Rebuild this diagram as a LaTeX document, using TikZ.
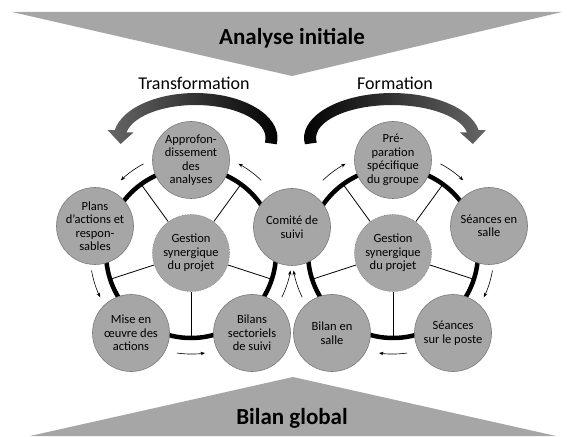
\documentclass[tikz,border=0pt]{standalone}
\usepackage{fontspec}
\setmainfont{Carlito}
\usetikzlibrary{arrows.meta,backgrounds}

\definecolor{fond}{HTML}{A6A6A6}
\definecolor{bord}{HTML}{7A7A7A}
\definecolor{arcclair}{HTML}{A3A3A3}
\definecolor{arcmoyen}{HTML}{666666}

\tikzset{
	etape/.style={circle, fill=fond, draw=bord, line width=0.6pt, minimum size=77pt, inner sep=0pt, align=center, font=\fontsize{12.5}{13.5}\selectfont},
	gestion/.style={etape, densely dotted},
	anneau/.style={line width=4.5pt},
	rayon/.style={line width=0.8pt},
	sens/.style={line width=0.6pt, -{Stealth[length=4.5pt,width=3.5pt]}},
	titre/.style={font=\fontsize{23}{27}\selectfont\bfseries},
	phase/.style={font=\fontsize{18}{21}\selectfont}
}

\begin{document}
\begin{tikzpicture}[x=1pt,y=1pt]
	\useasboundingbox (0,0) rectangle (572,436);

	% bandeaux haut et bas
	\fill[fond] (12,424) -- (562,424) -- (292,360) -- cycle;
	\node[titre] (analyse) at (292,398) {Analyse initiale};
	\fill[fond] (30,0) -- (293,59) -- (556,0) -- cycle;
	\node[titre] (bilan) at (292,18) {Bilan global};

	% les deux phases
	\node[phase] (transfo) at (194,353) {Transformation};
	\node[phase] (forma) at (395,353) {Formation};
	\shade[left color=arcmoyen, middle color=arcclair, right color=black]
	(276.7,291.7) arc[start angle=-8, end angle=170, x radius=82pt, y radius=45pt]
	-- ++(-7,0) -- (120.6,292) -- (133.6,303.7) -- (126.6,303.7)
	arc[start angle=170, end angle=-8, x radius=70pt, y radius=33pt] -- cycle;
	\shade[left color=black, middle color=arcclair, right color=arcmoyen]
	(304.9,291.7) arc[start angle=188, end angle=10, x radius=88pt, y radius=45pt]
	-- ++(7,0) -- (472.8,292) -- (459.9,303.7) -- (466.9,303.7)
	arc[start angle=10, end angle=188, x radius=76pt, y radius=33pt] -- cycle;

	% cycle transformation
	\node[gestion] (gestL) at (191,183) {Gestion\\synergique\\du projet};
	\node[etape] (approf) at (191,276) {Approfon-\\dissement\\des\\analyses};
	\node[etape] (plans) at (95,210) {Plans\\d’actions et\\respon-\\sables};
	\node[etape] (comite) at (292,209) {Comité de\\suivi};
	\node[etape] (mise) at (131,103) {Mise en\\œuvre des\\actions};
	\node[etape] (bilans) at (252,103) {Bilans\\sectoriels\\de suivi};

	% cycle formation
	\node[gestion] (gestR) at (393,183) {Gestion\\synergique\\du projet};
	\node[etape] (prep) at (393,276) {Pré-\\paration\\spécifique\\du groupe};
	\node[etape] (salle) at (489,210) {Séances en\\salle};
	\node[etape] (poste) at (453,103) {Séances\\sur le poste};
	\node[etape] (bilansalle) at (332,103) {Bilan en\\salle};

	\begin{scope}[on background layer]
		\draw[anneau] (gestL.center) circle (85pt);
		\draw[anneau] (gestR.center) circle (85pt);
		\foreach \a in {-90,-18,54,126,198}{
			\draw[rayon] (gestL) -- ([shift={(\a:85pt)}]gestL.center);
			\draw[rayon] (gestR) -- ([shift={(\a:85pt)}]gestR.center);
		}
	\end{scope}

	% sens de parcours
	\foreach \a [evaluate=\a as \b using \a-8, evaluate=\a as \c using \a+8] in {-90,-18,54,126,198}{
		\draw[sens] ([shift={(\b:101pt)}]gestL.center) arc[start angle=\b, end angle=\c, radius=101pt];
		\draw[sens] ([shift={(\c:101pt)}]gestR.center) arc[start angle=\c, end angle=\b, radius=101pt];
	}
\end{tikzpicture}
\end{document}
